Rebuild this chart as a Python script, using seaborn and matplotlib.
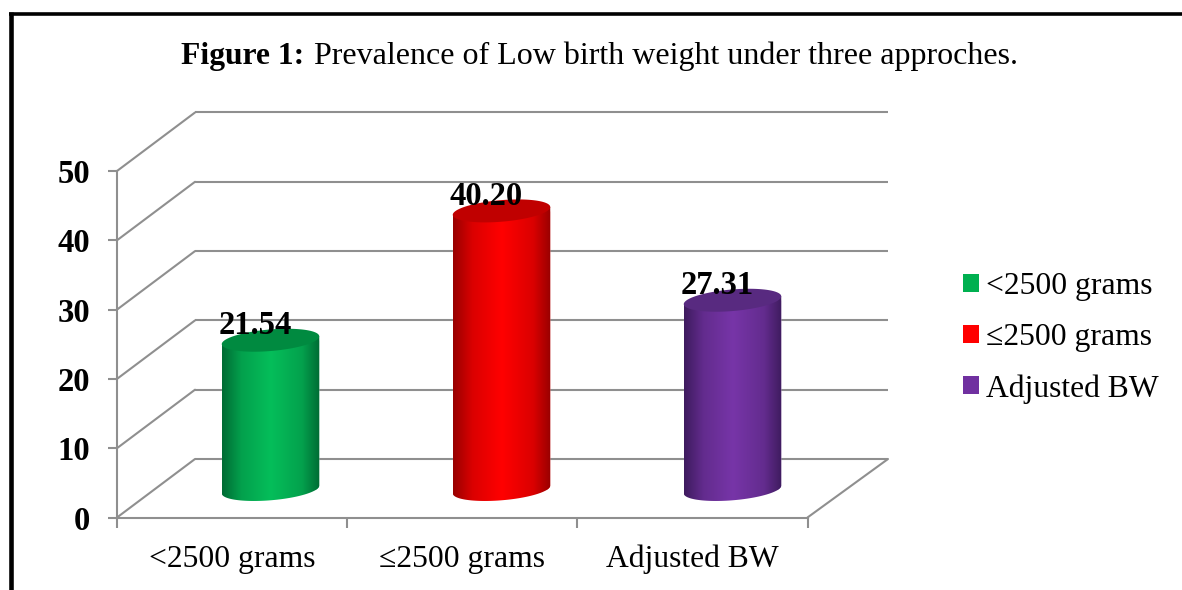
import numpy as np
import pandas as pd
import matplotlib
matplotlib.use("Agg")
import matplotlib.pyplot as plt
from matplotlib.colors import LinearSegmentedColormap, to_rgb
from matplotlib.lines import Line2D
from matplotlib.patches import ConnectionPatch, Patch, PathPatch
from matplotlib.path import Path
from matplotlib.transforms import IdentityTransform
import seaborn as sns

# ---- data ----
categories = ["<2500 grams", "≤2500 grams", "Adjusted BW"]
values = [21.54, 40.20, 27.31]
value_labels = ["21.54", "40.20", "27.31"]
y_ticks = [0, 10, 20, 30, 40, 50]
title_bold = "Figure 1:"
title_rest = "Prevalence of Low birth weight under three approches."

# ---- styles ----
legend_colors = ["#00B050", "#FF0000", "#7030A0"]
center_colors = ["#05BE5A", "#FF0000", "#7735A8"]
edge_colors = ["#006B34", "#980000", "#3E1B5E"]
cap_colors = ["#008A40", "#C00000", "#582A80"]
GRAY = "#8F8F8F"
FONT = "Liberation Serif"

W, H = 1182, 590
PX_PER_UNIT = 6.93

sns.set_theme(style="white")
plt.rcParams["font.family"] = [FONT, "DejaVu Sans"]
plt.rcParams["text.color"] = "black"
fig = plt.figure(figsize=(W / 100, H / 100), dpi=100, facecolor="white")


def make_axes(left_px, zero_px, width_px, ymin, ymax):
    """Axes whose y=0 falls at pixel row zero_px (measured from the top)."""
    bottom_px = zero_px - ymin * PX_PER_UNIT
    ax = fig.add_axes([left_px / W, (H - bottom_px) / H, width_px / W,
                       (ymax - ymin) * PX_PER_UNIT / H])
    ax.set_xlim(-0.5, 2.5)
    ax.set_ylim(ymin, ymax)
    ax.patch.set_alpha(0)
    return ax


# back wall
back = make_axes(195, 459, 693, 0, 50)
back.set_axis_off()
back.set_zorder(1)
back.hlines(y_ticks, -0.5, 2.5, color=GRAY, lw=1.5, clip_on=False)

# front axes
front = make_axes(117, 517.5, 690.5, 0, 50)
front.set_zorder(2)
sns.despine(ax=front)
for s in ("left", "bottom"):
    front.spines[s].set_color(GRAY)
    front.spines[s].set_linewidth(1.5)
front.set_yticks(y_ticks)
front.set_yticklabels([str(t) for t in y_ticks], fontsize=23.5, fontweight="bold",
                      color="black", family=FONT)
front.tick_params(axis="y", left=True, length=6.5, width=1.5, color=GRAY, pad=13)
for lab in front.get_yticklabels():
    lab.set_y(lab.get_position()[1])
front.set_xticks([-0.5, 0.5, 1.5, 2.5])
front.set_xticklabels([])
front.tick_params(axis="x", which="major", bottom=True, length=7, width=1.5, color=GRAY)
front.set_xticks([0, 1, 2], minor=True)
front.set_xticklabels(categories, minor=True, fontsize=22.8, color="black", family=FONT)
front.tick_params(axis="x", which="minor", bottom=False, length=0, pad=19.5)

# depth lines
for t in y_ticks:
    fig.add_artist(ConnectionPatch((-0.5, t), (-0.5, t), "data", "data", axesA=front,
                                   axesB=back, color=GRAY, lw=1.5))
fig.add_artist(ConnectionPatch((2.5, 0), (2.5, 0), "data", "data", axesA=front,
                               axesB=back, color=GRAY, lw=1.5))

# bars
bars = make_axes(155, 489.5, 693, -5, 60)
bars.set_zorder(5)
df = pd.DataFrame({"category": categories, "value": values})
sns.barplot(data=df, x="category", y="value", hue="category", palette=legend_colors,
            hue_order=categories, order=categories, width=0.422, legend=False,
            ax=bars, saturation=1)
bars.set_xlim(-0.5, 2.5)
bars.set_ylim(-5, 60)
bars.set_axis_off()

SLOPE = 0.08
SEMI_B = 10.8
to_px = bars.transData.transform
display = IdentityTransform()
patches = sorted(bars.patches, key=lambda p: p.get_x())
for i, patch in enumerate(patches):
    x0, w, v = patch.get_x(), patch.get_width(), patch.get_height()
    (lx, by), (rx, ty) = to_px((x0, 0)), to_px((x0 + w, v))
    a = (rx - lx) / 2
    cx = (lx + rx) / 2
    t_low = np.linspace(np.pi, 2 * np.pi, 60)
    low_x = cx + a * np.cos(t_low)
    low_y = by + SLOPE * a * np.cos(t_low) + SEMI_B * np.sin(t_low)
    body = np.column_stack([
        np.r_[low_x, rx, lx],
        np.r_[low_y, ty + SLOPE * a, ty - SLOPE * a],
    ])
    body_path = Path(np.vstack([body, body[0]]), closed=True)
    patch.set_clip_path(body_path, display)
    edge, centre = np.array(to_rgb(edge_colors[i])), np.array(to_rgb(center_colors[i]))
    mix = edge * 0.35 + centre * 0.65
    cmap = LinearSegmentedColormap.from_list(
        f"cyl{i}", [(0, edge), (0.2, mix), (0.5, centre), (0.82, mix), (1, edge)])
    im = bars.imshow(np.linspace(0, 1, 256)[None, :], cmap=cmap, aspect="auto",
                     extent=(x0, x0 + w, -4.5, v + 3), zorder=3, interpolation="bilinear")
    im.set_clip_path(body_path, display)
    t = np.linspace(0, 2 * np.pi, 120)
    cap = np.column_stack([cx + a * np.cos(t),
                           ty + SLOPE * a * np.cos(t) + SEMI_B * np.sin(t)])
    bars.add_patch(PathPatch(Path(cap, closed=True), transform=display,
                             fc=cap_colors[i], ec="none", zorder=4))
    bars.annotate(value_labels[i], (x0 + w / 2, v), xytext=(-10.8, 4.6),
                  textcoords="offset points", ha="center", va="baseline",
                  fontsize=23.5, fontweight="bold", color="black", zorder=6, family=FONT)
bars.set_xlim(-0.5, 2.5)
bars.set_ylim(-5, 60)

# title
fig.text(181 / W, (H - 64) / H, title_bold, fontsize=22.8, fontweight="bold",
         color="black", ha="left", va="baseline", family=FONT)
fig.text(314 / W, (H - 64) / H, title_rest, fontsize=23, color="black",
         ha="left", va="baseline", family=FONT)

# legend
handles = [Patch(facecolor=c, edgecolor="none", label=l)
           for c, l in zip(legend_colors, categories)]
leg = fig.legend(handles=handles, loc="center left", frameon=False,
                 bbox_to_anchor=(963 / W, (H - 338) / H), borderaxespad=0, borderpad=0,
                 handlelength=0.5, handleheight=0.5, handletextpad=0.24,
                 labelspacing=0.69, prop={"family": FONT, "size": 22.8})
for text in leg.get_texts():
    text.set_color("black")

# page frame
fig.add_artist(Line2D([10.5 / W, 10.5 / W], [0, (H - 12) / H], color="black", lw=3.3,
                      solid_capstyle="butt"))
fig.add_artist(Line2D([8.5 / W, 1], [(H - 14) / H, (H - 14) / H], color="black", lw=2.6,
                      solid_capstyle="butt"))

fig.savefig("out.png", dpi=100)
